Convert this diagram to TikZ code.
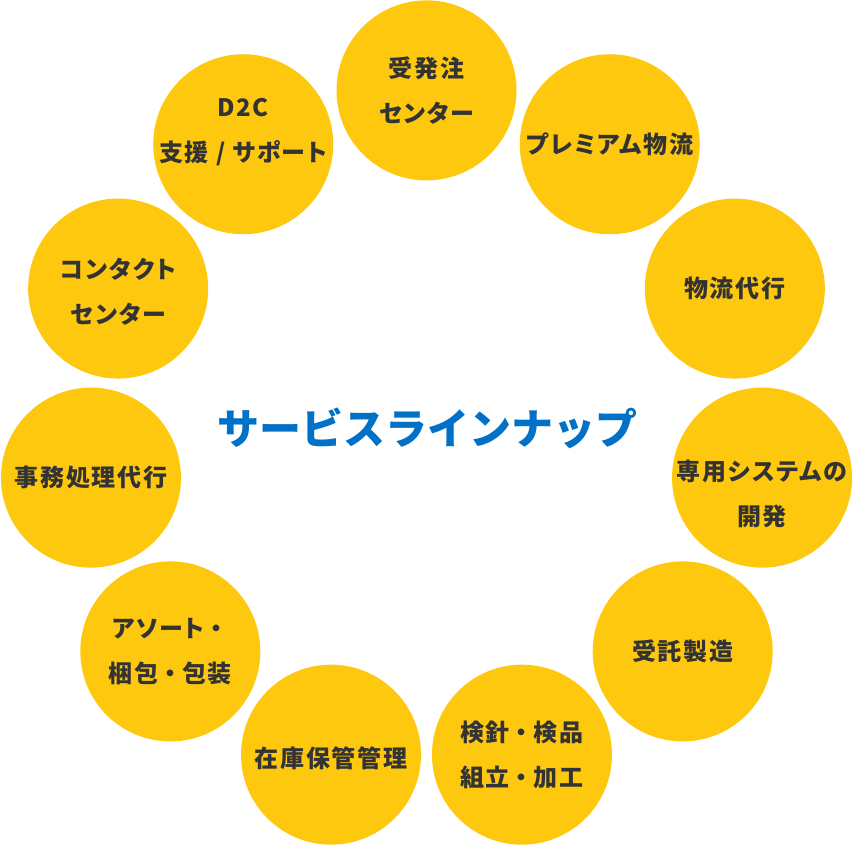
\documentclass[tikz,border=0pt]{standalone}
\usepackage{fontspec}
\newfontfamily\jp{Noto Sans CJK JP}
\newfontfamily\jpsp{Noto Sans CJK JP}[RawFeature=+palt,LetterSpace=7]
\newcommand\nakaten{\makebox[1em]{・}}
\definecolor{ballyellow}{HTML}{FEC80F}
\definecolor{inkgray}{HTML}{333333}
\definecolor{titleblue}{HTML}{0071C6}
\begin{document}
\begin{tikzpicture}[x=1pt,y=1pt,
  ball/.style={circle,fill=ballyellow,minimum size=180pt,inner sep=0pt},
  lbl/.style={text=inkgray,align=center,font=\jpsp\bfseries\fontsize{24}{45}\selectfont}]
\useasboundingbox (-426.5,-416.6) rectangle (426.5,429.4);
\node[text=titleblue,font=\jp\bfseries\fontsize{42}{50}\selectfont] (title) at (1,1) {サービスラインナップ};
\node[ball] (B1) at (90:339) {};
\node[ball] (B2) at (57.27:339) {};
\node[ball] (B3) at (24.55:339) {};
\node[ball] (B4) at (-8.18:339) {};
\node[ball] (B5) at (-40.91:339) {};
\node[ball] (B6) at (-73.64:339) {};
\node[ball] (B7) at (-106.36:339) {};
\node[ball] (B8) at (-139.09:339) {};
\node[ball] (B9) at (-171.82:339) {};
\node[ball] (B10) at (155.45:339) {};
\node[ball] (B11) at (122.73:339) {};
\node[lbl] (T1) at (B1) {受発注\\センター};
\node[lbl] (T2) at (B2) {プレミアム物流};
\node[lbl] (T3) at (B3) {物流代行};
\node[lbl] (T4) at ([yshift=-16]B4.center) {専用システムの\\開発};
\node[lbl] (T5) at (B5) {受託製造};
\node[lbl] (T6) at (B6) {検針\nakaten 検品\\組立\nakaten 加工};
\node[lbl] (T7) at ([yshift=-4]B7.center) {在庫保管管理};
\node[lbl] (T8) at (B8) {アソート\nakaten\\梱包\nakaten 包装};
\node[lbl] (T9) at (B9) {事務処理代行};
\node[lbl] (T10) at ([yshift=-3]B10.center) {コンタクト\\センター};
\node[lbl] (T11) at ([yshift=12]B11.center) {D2C\\支援 / サポート};
\end{tikzpicture}
\end{document}
